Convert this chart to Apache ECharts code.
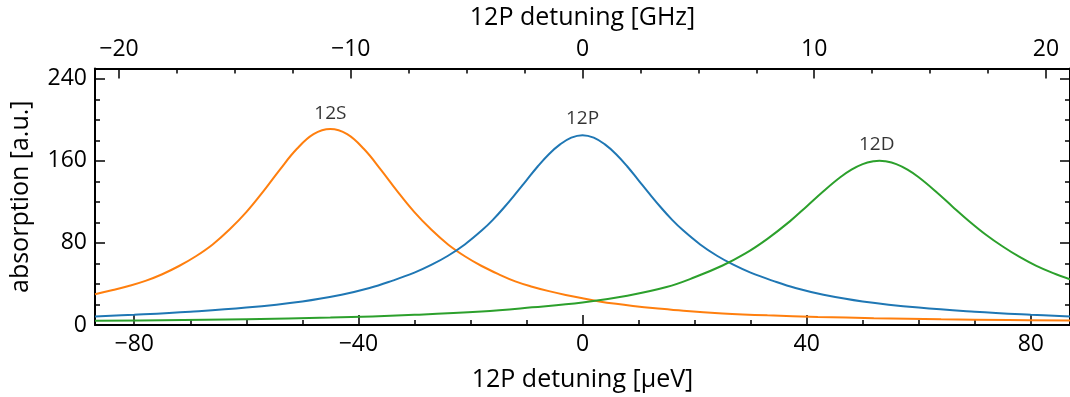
<!DOCTYPE html>
<html>
<head>
<meta charset="utf-8">
<script src="https://cdn.jsdelivr.net/npm/echarts@6/dist/echarts.min.js"></script>
<style>
html,body{margin:0;padding:0;background:#fff;}
#chart{width:1070px;height:397px;}
</style>
</head>
<body>
<div id="chart"></div>
<script>
// ---- data ----
const UEV_TO_GHZ = 0.2417989;          // 1 µeV in GHz
const xMin = -87, xMax = 87;           // µeV
const yMin = 0, yMax = 250;            // a.u.

const bottomMajor = [-80, -40, 0, 40, 80];
const bottomMinor = [-80, -70, -60, -50, -40, -30, -20, -10, 0, 10, 20, 30, 40, 50, 60, 70, 80];
const topMajor = [-20, -10, 0, 10, 20];
const topMinor = [-20, -17.5, -15, -12.5, -10, -7.5, -5, -2.5, 0, 2.5, 5, 7.5, 10, 12.5, 15, 17.5, 20];
const leftMajor = [0, 80, 160, 240];
const leftMinor = [20, 40, 60, 100, 120, 140, 180, 200, 220];

// 12S (orange)
const s12X = [-87, -84, -81, -78, -75, -72, -69, -66, -63, -60, -57, -54, -51, -48, -45, -42, -39, -36, -33, -30, -27, -24, -21, -18, -15, -12, -9, -6, -3, 0, 3, 6, 9, 13, 18, 25, 33, 42, 52, 64, 76, 87];
const s12Y = [30, 33.8, 38, 43, 49.5, 57.5, 67, 78.5, 93, 110, 130, 151.5, 171.5, 186, 191, 186, 171.5, 151.5, 130, 110, 93, 78.5, 67, 57.5, 49.5, 42.5, 37.3, 33, 29.3, 26, 23, 20.6, 18.6, 16.3, 13.8, 11.3, 9.4, 7.9, 6.7, 5.6, 4.9, 4.3];

// 12P (blue)
const p12X = [-87, -80, -70, -60, -50, -43, -38, -34, -30, -27, -24, -21, -18, -16, -14, -12, -10, -8, -6, -4, -2, 0, 2, 4, 6, 8, 10, 12, 14, 16, 18, 21, 24, 27, 30, 34, 38, 43, 50, 60, 70, 80, 87];
const p12Y = [8.3, 10, 13, 17, 23, 29.5, 36, 43, 51, 58.5, 67.5, 78.5, 92, 102.5, 114.5, 127.5, 141, 154.5, 166.5, 176, 182.6, 185, 182.6, 176, 166.5, 154.5, 141, 127.5, 114.5, 102.5, 92, 78.5, 67.5, 58.5, 51, 43, 36, 29.5, 23, 17, 13, 10, 8.3];

// 12D (green)
const d12X = [-87, -75, -60, -45, -30, -18, -9, 0, 8, 15, 20, 25, 29, 33, 37, 40, 43, 46, 48, 50, 52, 53, 54, 56, 58, 60, 63, 66, 69, 72, 75, 78, 81, 84, 87];
const d12Y = [4.1, 4.7, 5.7, 7.2, 9.9, 13.1, 17.2, 22, 28.6, 37, 46.5, 58, 69.5, 84, 101, 115.6, 130.4, 144, 151.4, 156.8, 159.6, 160, 159.6, 156.8, 151.4, 144, 130.4, 115.6, 101.2, 88, 76.5, 66.3, 57.6, 50.5, 44.5];

const peakNames = ['12S', '12P', '12D'];
const peakLabelX = [-45, 0, 52.5];
const peakLabelY = [206, 201, 176];

const colors = ['#ff7f0e', '#1f77b4', '#2ca02c'];

// ---- chart ----
const zip = (xs, ys) => xs.map((x, i) => [x, ys[i]]);
const minus = v => String(v).replace('-', '\u2212');
const FONT = 'Open Sans';
const FS = 23;       // tick labels
const FT = 25;       // axis titles
const black = '#000';

function tickAxis(base, values, len, extra) {
  return Object.assign({
    type: 'value',
    axisLine: { show: false, onZero: false },
    axisTick: { show: true, inside: true, length: len, customValues: values, lineStyle: { color: black, width: 1.5 } },
    axisLabel: { show: false },
    splitLine: { show: false }
  }, base, extra || {});
}

const chart = echarts.init(document.getElementById('chart'), null, { renderer: 'canvas' });

const mainLine = { show: true, onZero: false, lineStyle: { color: black, width: 2 } };

const xAxes = [
  tickAxis({ position: 'bottom', min: xMin, max: xMax }, bottomMajor, 10, {
    axisLine: mainLine,
    axisLabel: { show: true, customValues: bottomMajor, formatter: minus, fontSize: FS, fontFamily: FONT, color: black, margin: 8 },
    name: '12P detuning [\u03bceV]', nameLocation: 'middle', nameGap: 42,
    nameTextStyle: { fontSize: FT, fontFamily: FONT, color: black }
  }),
  tickAxis({ position: 'bottom', min: xMin, max: xMax }, bottomMinor, 5),
  tickAxis({ position: 'top', min: xMin * UEV_TO_GHZ, max: xMax * UEV_TO_GHZ }, topMajor, 10, {
    axisLine: mainLine,
    axisLabel: { show: true, customValues: topMajor, formatter: minus, fontSize: FS, fontFamily: FONT, color: black, margin: 8 },
    name: '12P detuning [GHz]', nameLocation: 'middle', nameGap: 38.5,
    nameTextStyle: { fontSize: FT, fontFamily: FONT, color: black }
  }),
  tickAxis({ position: 'top', min: xMin * UEV_TO_GHZ, max: xMax * UEV_TO_GHZ }, topMinor, 5)
];

const yAxes = [
  tickAxis({ position: 'left', min: yMin, max: yMax }, leftMajor, 10, {
    axisLine: mainLine,
    axisLabel: { show: true, customValues: leftMajor, fontSize: FS, fontFamily: FONT, color: black, margin: 8 },
    name: 'absorption [a.u.]', nameLocation: 'middle', nameGap: 62, nameRotate: 90,
    nameTextStyle: { fontSize: FT, fontFamily: FONT, color: black }
  }),
  tickAxis({ position: 'left', min: yMin, max: yMax }, leftMinor, 5),
  tickAxis({ position: 'right', min: yMin, max: yMax }, leftMajor, 10, { axisLine: mainLine }),
  tickAxis({ position: 'right', min: yMin, max: yMax }, leftMinor, 5)
];

const curves = [[s12X, s12Y], [p12X, p12Y], [d12X, d12Y]].map((c, i) => ({
  type: 'line',
  xAxisIndex: 0, yAxisIndex: 0,
  data: zip(c[0], c[1]),
  smooth: 0.4,
  showSymbol: false,
  symbol: 'none',
  lineStyle: { color: colors[i], width: 2 },
  itemStyle: { color: colors[i] },
  z: 3 + i,
  animation: false
}));

const labels = {
  type: 'scatter',
  xAxisIndex: 0, yAxisIndex: 0,
  symbolSize: 1,
  itemStyle: { color: 'rgba(0,0,0,0)' },
  data: peakNames.map((n, i) => ({ value: [peakLabelX[i], peakLabelY[i]], name: n })),
  label: { show: true, position: 'inside', formatter: p => p.name, fontSize: 19, fontFamily: FONT, color: black },
  silent: true,
  animation: false,
  z: 10
};

chart.setOption({
  animation: false,
  backgroundColor: '#fff',
  grid: { left: 94, top: 66, width: 978, height: 261, containLabel: false },
  xAxis: xAxes,
  yAxis: yAxes,
  series: curves.concat([labels])
});
</script>
</body>
</html>
